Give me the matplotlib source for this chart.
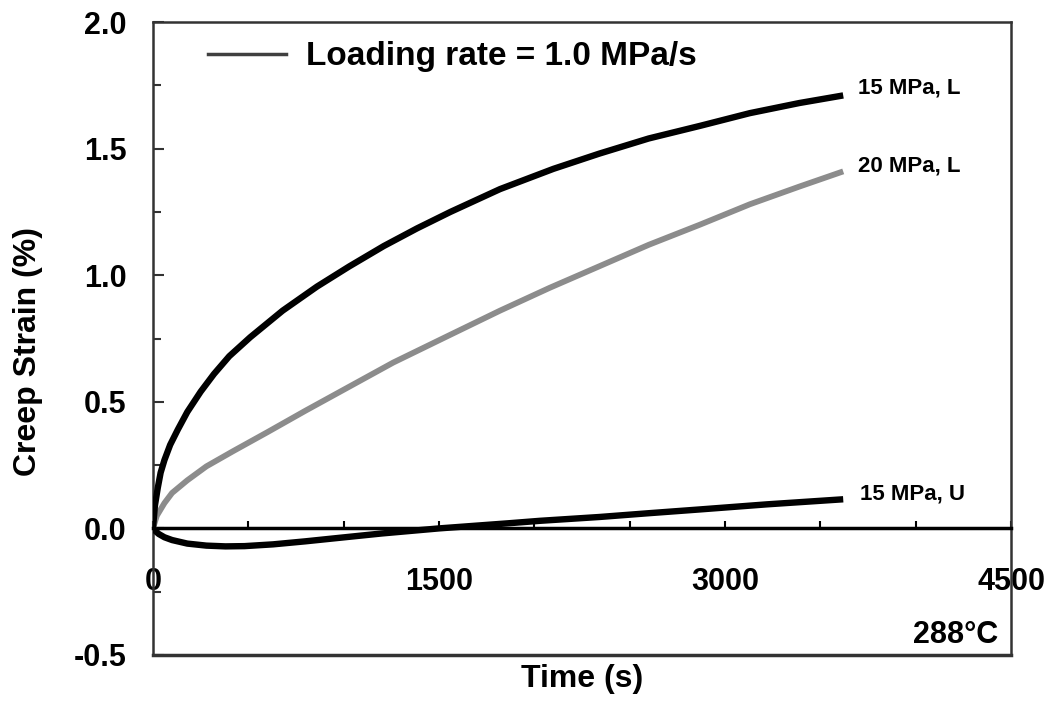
import matplotlib
matplotlib.use("Agg")
import matplotlib.pyplot as plt
from matplotlib.lines import Line2D
from matplotlib.ticker import MultipleLocator, FixedLocator

plt.rcParams['font.family'] = ['Liberation Sans', 'DejaVu Sans']
plt.rcParams['font.weight'] = 'bold'

# 15 MPa, L (black)
t_15L = [0, 10, 25, 40, 60, 90, 130, 180, 250, 320, 400, 510, 680, 860, 1030,
         1210, 1385, 1560, 1820, 2100, 2340, 2600, 2870, 3130, 3390, 3620]
e_15L = [0.0, 0.09, 0.16, 0.22, 0.27, 0.33, 0.39, 0.46, 0.54, 0.61, 0.68, 0.755,
         0.86, 0.955, 1.035, 1.115, 1.185, 1.25, 1.34, 1.42, 1.48, 1.54, 1.59,
         1.64, 1.68, 1.71]

# 20 MPa, L (grey)
t_20L = [0, 20, 60, 100, 180, 280, 420, 600, 800, 1030, 1260, 1560, 1820, 2080,
         2340, 2600, 2870, 3130, 3390, 3620]
e_20L = [0.0, 0.05, 0.10, 0.14, 0.19, 0.245, 0.305, 0.38, 0.465, 0.56, 0.655,
         0.765, 0.86, 0.95, 1.035, 1.12, 1.20, 1.28, 1.35, 1.41]

# 15 MPa, U (black)
t_15U = [0, 15, 30, 60, 100, 180, 280, 380, 480, 630, 800, 980, 1200, 1500,
         1860, 2030, 2340, 2600, 2870, 3220, 3620]
e_15U = [0.0, -0.012, -0.022, -0.035, -0.046, -0.06, -0.068, -0.071, -0.07,
         -0.063, -0.051, -0.037, -0.02, 0.0, 0.02, 0.03, 0.045, 0.06, 0.075,
         0.095, 0.115]

x_major = [0, 1500, 3000, 4500]
x_minor = [500, 1000, 2000, 2500, 3500, 4000]

fig = plt.figure(figsize=(10.53, 7.02), dpi=100)
ax = fig.add_axes([153 / 1053, 47 / 702, 858 / 1053, 633 / 702])

ax.plot(t_20L, e_20L, color='#8c8c8c', lw=4.2, solid_capstyle='butt',
        solid_joinstyle='round', zorder=3)
ax.plot(t_15L, e_15L, color='black', lw=4.6, solid_capstyle='butt',
        solid_joinstyle='round', zorder=4)
ax.plot(t_15U, e_15U, color='black', lw=4.6, solid_capstyle='butt',
        solid_joinstyle='round', zorder=4)

ax.annotate('15 MPa, L', (t_15L[-1], e_15L[-1]), xytext=(11, 5), textcoords='offset points',
            fontsize=16, fontweight='bold', va='center', ha='left')
ax.annotate('20 MPa, L', (t_20L[-1], e_20L[-1]), xytext=(11, 4), textcoords='offset points',
            fontsize=16, fontweight='bold', va='center', ha='left')
ax.annotate('15 MPa, U', (t_15U[-1], e_15U[-1]), xytext=(12, 4), textcoords='offset points',
            fontsize=16, fontweight='bold', va='center', ha='left')

ax.set_xlim(0, 4500)
ax.set_ylim(-0.5, 2.0)

# x axis runs through zero
ax.spines['bottom'].set_position(('data', 0))
ax.spines['bottom'].set_linewidth(2.5)
ax.spines['bottom'].set_color('black')
for s in ['left', 'right', 'top']:
    ax.spines[s].set_linewidth(1.8)
    ax.spines[s].set_color('#333333')
ax.axhline(-0.5, color='#333333', lw=2.5, clip_on=False, zorder=5)

ax.xaxis.set_major_locator(FixedLocator(x_major))
ax.xaxis.set_minor_locator(FixedLocator(x_minor))
ax.yaxis.set_major_locator(MultipleLocator(0.5))
ax.yaxis.set_minor_locator(MultipleLocator(0.25))
ax.yaxis.set_major_formatter(plt.FuncFormatter(lambda v, p: f'{v:.1f}'))

ax.tick_params(axis='x', which='both', direction='in', length=5, width=1.5,
               pad=28, labelsize=22, color='black')
ax.tick_params(axis='y', which='major', direction='in', length=8, width=1.5,
               pad=19, labelsize=22, color='#333333')
ax.tick_params(axis='y', which='minor', direction='in', length=6, width=1.5,
               color='#333333')

ax.set_xlabel('Time (s)', fontsize=23, fontweight='bold')
ax.set_ylabel('Creep Strain (%)', fontsize=23, fontweight='bold')
ax.xaxis.set_label_coords(0.5, -0.015)
ax.yaxis.set_label_coords(-0.128, 0.48)

ax.text(0.985, 0.019, '288°C', transform=ax.transAxes, ha='right', va='baseline',
        fontsize=22, fontweight='bold')

handle = Line2D([], [], color='#404040', lw=2.5)
ax.legend([handle], ['Loading rate = 1.0 MPa/s'], loc='center left',
          bbox_to_anchor=(0.064, 0.945), frameon=False,
          handlelength=2.33, handletextpad=0.6, borderpad=0, borderaxespad=0,
          prop={'weight': 'bold', 'size': 24})

fig.savefig('out.png', dpi=100)
